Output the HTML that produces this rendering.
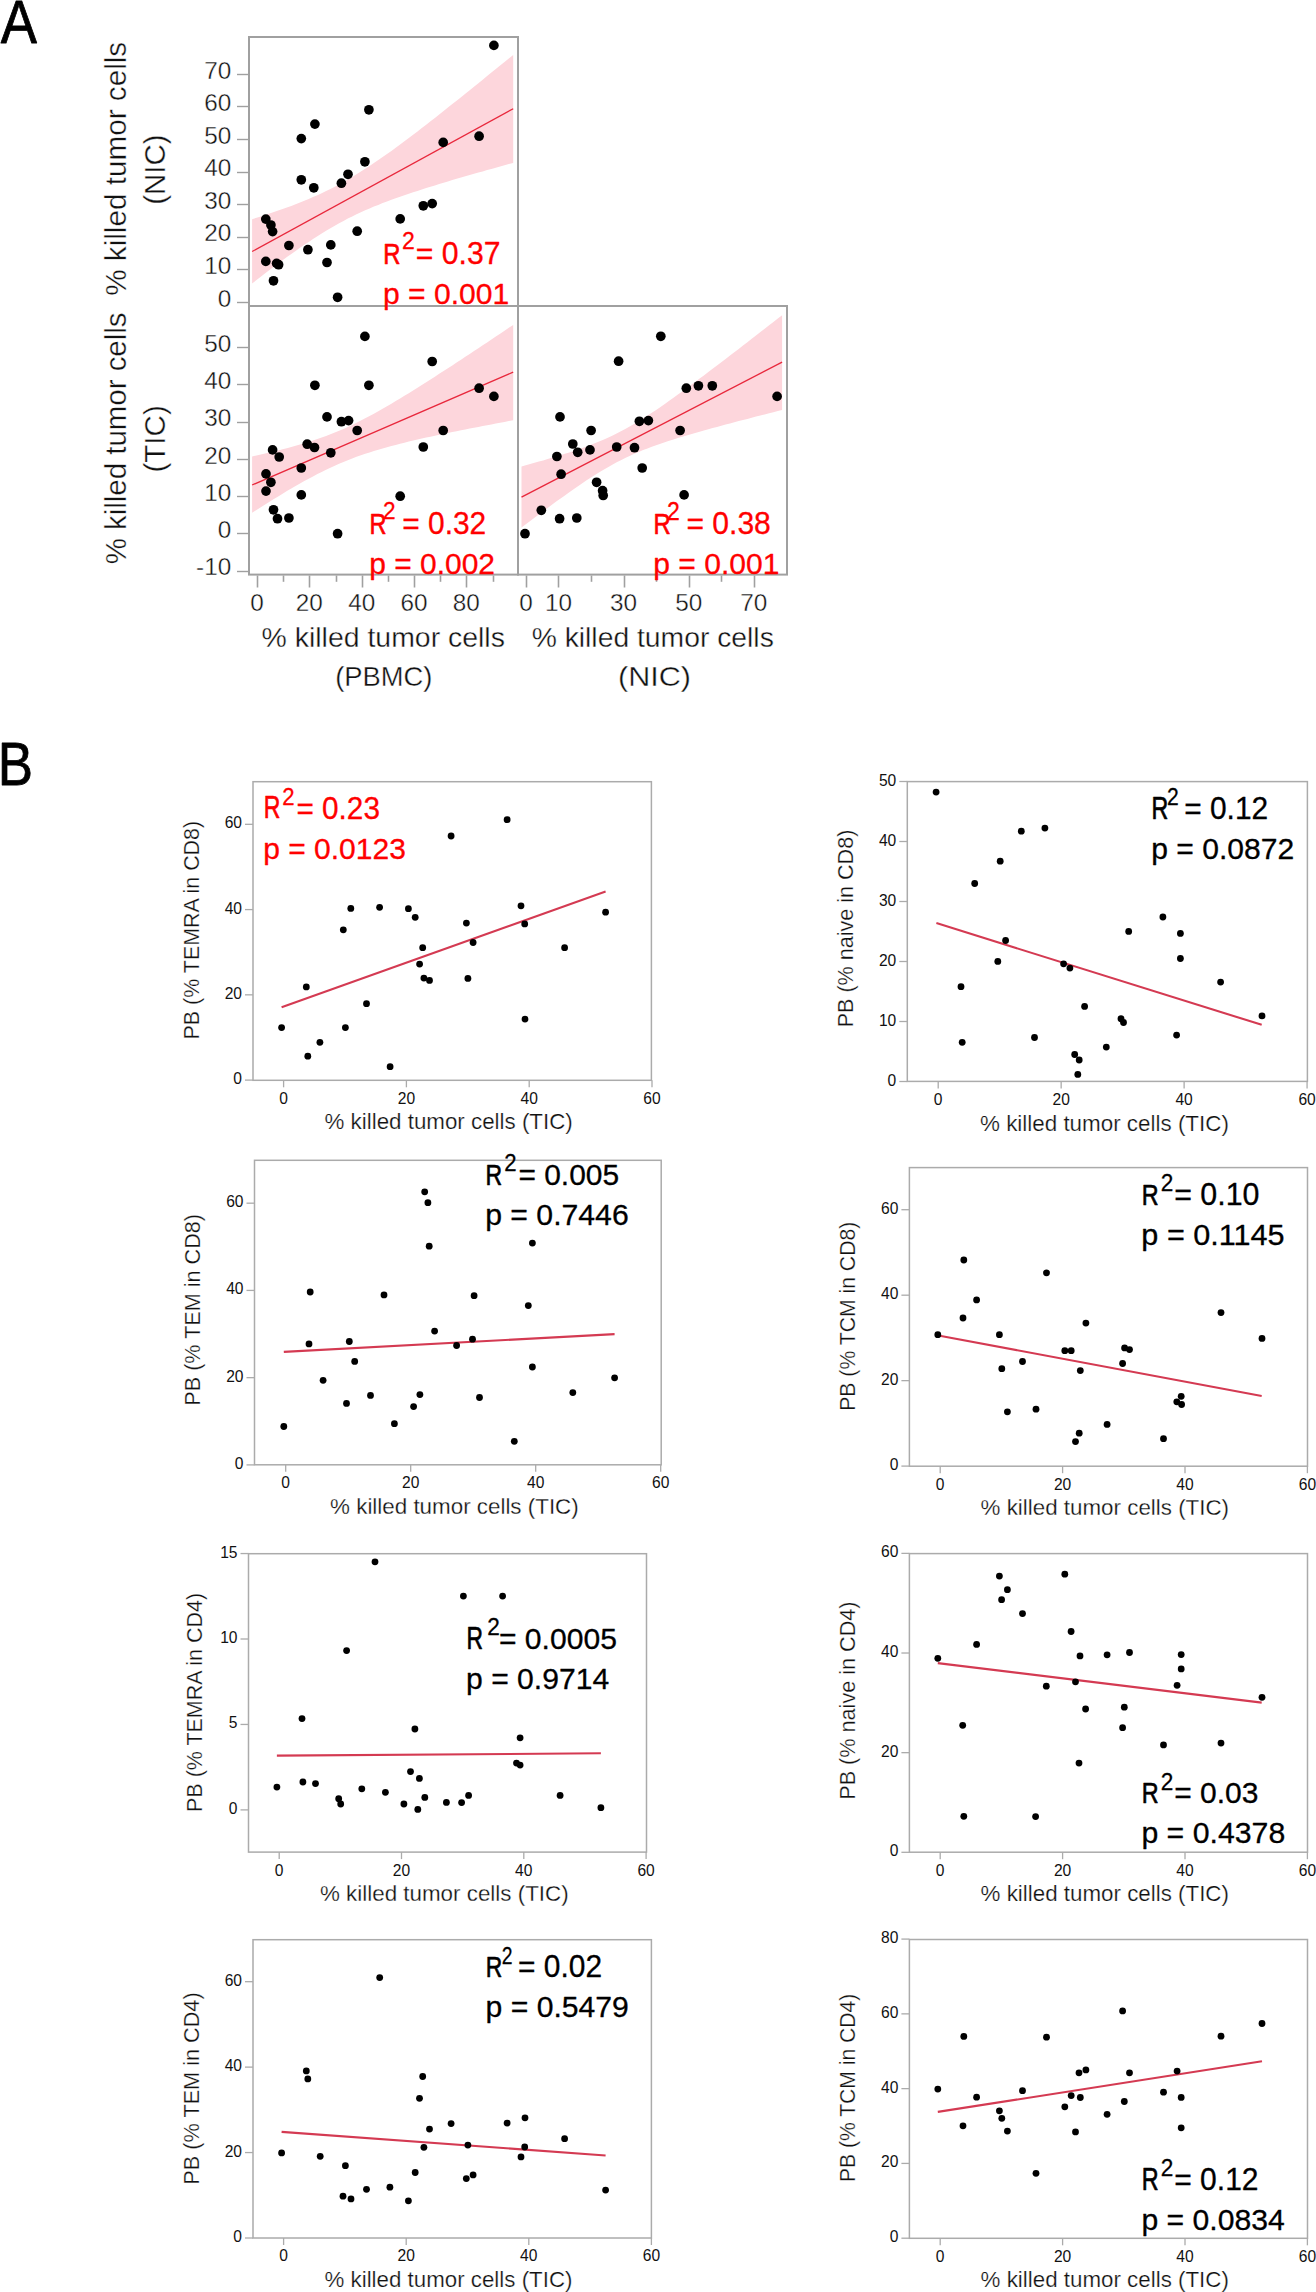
<!DOCTYPE html>
<html><head><meta charset="utf-8"><style>
html,body{margin:0;padding:0;background:#fff;}
body{width:1316px;height:2292px;overflow:hidden;}
svg{display:block;font-family:"Liberation Sans",sans-serif;}
</style></head><body>
<svg width="1316" height="2292" viewBox="0 0 1316 2292">
<rect width="1316" height="2292" fill="#fff"/>
<text transform="translate(0.70,43.40) scale(0.8876,1)" font-size="61.16" fill="#000" stroke="#000" stroke-width="0.8" stroke-linejoin="round">A</text>
<text transform="translate(-2.33,785.10) scale(0.8649,1)" font-size="61.16" fill="#000" stroke="#000" stroke-width="0.8" stroke-linejoin="round">B</text>
<path d="M252.1,219.2 L256.5,217.8 L260.8,216.4 L265.2,215.0 L269.5,213.6 L273.9,212.1 L278.2,210.6 L282.6,209.1 L286.9,207.5 L291.3,205.9 L295.6,204.3 L300.0,202.6 L304.3,200.8 L308.7,199.0 L313.0,197.1 L317.4,195.2 L321.7,193.2 L326.1,191.1 L330.4,189.0 L334.8,186.7 L339.1,184.4 L343.5,182.0 L347.8,179.5 L352.2,177.0 L356.5,174.3 L360.9,171.6 L365.2,168.8 L369.6,166.0 L373.9,163.1 L378.3,160.1 L382.6,157.1 L387.0,154.0 L391.4,150.9 L395.7,147.7 L400.1,144.5 L404.4,141.3 L408.8,138.0 L413.1,134.7 L417.5,131.4 L421.8,128.0 L426.2,124.7 L430.5,121.3 L434.9,117.9 L439.2,114.5 L443.6,111.0 L447.9,107.6 L452.3,104.1 L456.6,100.7 L461.0,97.2 L465.3,93.7 L469.7,90.2 L474.0,86.7 L478.4,83.2 L482.7,79.7 L487.1,76.1 L491.4,72.6 L495.8,69.1 L500.1,65.5 L504.5,62.0 L508.8,58.5 L513.2,54.9 L513.2,162.9 L508.8,164.1 L504.5,165.3 L500.1,166.5 L495.8,167.7 L491.4,168.9 L487.1,170.1 L482.7,171.4 L478.4,172.6 L474.0,173.8 L469.7,175.1 L465.3,176.3 L461.0,177.6 L456.6,178.8 L452.3,180.1 L447.9,181.4 L443.6,182.7 L439.2,184.0 L434.9,185.4 L430.5,186.7 L426.2,188.1 L421.8,189.5 L417.5,190.9 L413.1,192.3 L408.8,193.7 L404.4,195.2 L400.1,196.7 L395.7,198.3 L391.4,199.8 L387.0,201.5 L382.6,203.1 L378.3,204.9 L373.9,206.6 L369.6,208.5 L365.2,210.3 L360.9,212.3 L356.5,214.3 L352.2,216.4 L347.8,218.6 L343.5,220.9 L339.1,223.2 L334.8,225.7 L330.4,228.2 L326.1,230.8 L321.7,233.4 L317.4,236.2 L313.0,239.0 L308.7,241.9 L304.3,244.8 L300.0,247.8 L295.6,250.9 L291.3,254.0 L286.9,257.1 L282.6,260.3 L278.2,263.5 L273.9,266.8 L269.5,270.0 L265.2,273.3 L260.8,276.7 L256.5,280.0 L252.1,283.4Z" fill="#fdd6dc"/>
<path d="M252.1,456.5 L256.5,455.5 L260.8,454.6 L265.2,453.6 L269.5,452.5 L273.9,451.5 L278.2,450.4 L282.6,449.3 L286.9,448.2 L291.3,447.0 L295.6,445.8 L300.0,444.6 L304.3,443.3 L308.7,441.9 L313.0,440.5 L317.4,439.1 L321.7,437.6 L326.1,436.0 L330.4,434.3 L334.8,432.6 L339.1,430.8 L343.5,428.9 L347.8,426.9 L352.2,424.9 L356.5,422.8 L360.9,420.6 L365.2,418.3 L369.6,416.0 L373.9,413.7 L378.3,411.2 L382.6,408.8 L387.0,406.3 L391.4,403.7 L395.7,401.1 L400.1,398.5 L404.4,395.8 L408.8,393.2 L413.1,390.5 L417.5,387.7 L421.8,385.0 L426.2,382.2 L430.5,379.4 L434.9,376.7 L439.2,373.8 L443.6,371.0 L447.9,368.2 L452.3,365.4 L456.6,362.5 L461.0,359.7 L465.3,356.8 L469.7,353.9 L474.0,351.0 L478.4,348.2 L482.7,345.3 L487.1,342.4 L491.4,339.5 L495.8,336.6 L500.1,333.7 L504.5,330.7 L508.8,327.8 L513.2,324.9 L513.2,420.3 L508.8,421.1 L504.5,421.9 L500.1,422.7 L495.8,423.6 L491.4,424.4 L487.1,425.2 L482.7,426.1 L478.4,426.9 L474.0,427.8 L469.7,428.6 L465.3,429.5 L461.0,430.3 L456.6,431.2 L452.3,432.1 L447.9,433.0 L443.6,433.9 L439.2,434.8 L434.9,435.7 L430.5,436.7 L426.2,437.6 L421.8,438.6 L417.5,439.6 L413.1,440.6 L408.8,441.6 L404.4,442.7 L400.1,443.8 L395.7,444.9 L391.4,446.0 L387.0,447.2 L382.6,448.4 L378.3,449.7 L373.9,451.0 L369.6,452.4 L365.2,453.8 L360.9,455.3 L356.5,456.8 L352.2,458.5 L347.8,460.2 L343.5,461.9 L339.1,463.8 L334.8,465.7 L330.4,467.7 L326.1,469.8 L321.7,471.9 L317.4,474.1 L313.0,476.4 L308.7,478.7 L304.3,481.1 L300.0,483.6 L295.6,486.0 L291.3,488.6 L286.9,491.1 L282.6,493.7 L278.2,496.4 L273.9,499.0 L269.5,501.7 L265.2,504.4 L260.8,507.2 L256.5,509.9 L252.1,512.7Z" fill="#fdd6dc"/>
<path d="M521.5,466.4 L525.8,465.2 L530.2,464.0 L534.5,462.8 L538.9,461.6 L543.2,460.4 L547.6,459.1 L551.9,457.8 L556.2,456.5 L560.6,455.2 L564.9,453.8 L569.3,452.4 L573.6,451.0 L578.0,449.5 L582.3,448.0 L586.6,446.5 L591.0,444.8 L595.3,443.1 L599.7,441.3 L604.0,439.5 L608.4,437.5 L612.7,435.5 L617.1,433.3 L621.4,431.1 L625.7,428.7 L630.1,426.3 L634.4,423.8 L638.8,421.1 L643.1,418.4 L647.5,415.6 L651.8,412.8 L656.1,409.9 L660.5,406.9 L664.8,403.9 L669.2,400.8 L673.5,397.8 L677.9,394.6 L682.2,391.5 L686.5,388.3 L690.9,385.1 L695.2,381.9 L699.6,378.6 L703.9,375.4 L708.3,372.1 L712.6,368.8 L717.0,365.5 L721.3,362.2 L725.6,358.9 L730.0,355.6 L734.3,352.2 L738.7,348.9 L743.0,345.5 L747.4,342.2 L751.7,338.8 L756.0,335.5 L760.4,332.1 L764.7,328.7 L769.1,325.3 L773.4,322.0 L777.8,318.6 L782.1,315.2 L782.1,410.0 L777.8,411.1 L773.4,412.2 L769.1,413.3 L764.7,414.4 L760.4,415.5 L756.0,416.6 L751.7,417.7 L747.4,418.9 L743.0,420.0 L738.7,421.1 L734.3,422.3 L730.0,423.4 L725.6,424.6 L721.3,425.7 L717.0,426.9 L712.6,428.1 L708.3,429.3 L703.9,430.5 L699.6,431.7 L695.2,432.9 L690.9,434.2 L686.5,435.5 L682.2,436.8 L677.9,438.1 L673.5,439.4 L669.2,440.8 L664.8,442.3 L660.5,443.7 L656.1,445.2 L651.8,446.8 L647.5,448.4 L643.1,450.1 L638.8,451.9 L634.4,453.8 L630.1,455.7 L625.7,457.7 L621.4,459.9 L617.1,462.1 L612.7,464.4 L608.4,466.9 L604.0,469.4 L599.7,472.0 L595.3,474.7 L591.0,477.5 L586.6,480.3 L582.3,483.3 L578.0,486.2 L573.6,489.2 L569.3,492.3 L564.9,495.4 L560.6,498.5 L556.2,501.6 L551.9,504.8 L547.6,508.0 L543.2,511.2 L538.9,514.5 L534.5,517.7 L530.2,521.0 L525.8,524.3 L521.5,527.6Z" fill="#fdd6dc"/>
<line x1="252.10" y1="251.50" x2="513.20" y2="108.70" stroke="#e8283c" stroke-width="1.3"/>
<line x1="252.10" y1="485.00" x2="513.20" y2="372.10" stroke="#e8283c" stroke-width="1.3"/>
<line x1="521.50" y1="497.10" x2="782.10" y2="362.20" stroke="#e8283c" stroke-width="1.3"/>
<rect x="249.00" y="37.00" width="269.00" height="269.00" fill="none" stroke="#a0a0a0" stroke-width="2"/>
<rect x="249.00" y="306.00" width="269.00" height="268.60" fill="none" stroke="#a0a0a0" stroke-width="2"/>
<rect x="518.00" y="306.00" width="269.00" height="268.60" fill="none" stroke="#a0a0a0" stroke-width="2"/>
<line x1="237.00" y1="302.50" x2="249.00" y2="302.50" stroke="#a0a0a0" stroke-width="1.4"/>
<text x="231.20" y="306.60" font-size="24.3" text-anchor="end" fill="#111" stroke="#fff" stroke-width="0.35">0</text>
<line x1="237.00" y1="269.50" x2="249.00" y2="269.50" stroke="#a0a0a0" stroke-width="1.4"/>
<text x="231.20" y="274.03" font-size="24.3" text-anchor="end" fill="#111" stroke="#fff" stroke-width="0.35">10</text>
<line x1="237.00" y1="237.50" x2="249.00" y2="237.50" stroke="#a0a0a0" stroke-width="1.4"/>
<text x="231.20" y="241.46" font-size="24.3" text-anchor="end" fill="#111" stroke="#fff" stroke-width="0.35">20</text>
<line x1="237.00" y1="204.50" x2="249.00" y2="204.50" stroke="#a0a0a0" stroke-width="1.4"/>
<text x="231.20" y="208.89" font-size="24.3" text-anchor="end" fill="#111" stroke="#fff" stroke-width="0.35">30</text>
<line x1="237.00" y1="172.50" x2="249.00" y2="172.50" stroke="#a0a0a0" stroke-width="1.4"/>
<text x="231.20" y="176.32" font-size="24.3" text-anchor="end" fill="#111" stroke="#fff" stroke-width="0.35">40</text>
<line x1="237.00" y1="139.50" x2="249.00" y2="139.50" stroke="#a0a0a0" stroke-width="1.4"/>
<text x="231.20" y="143.74" font-size="24.3" text-anchor="end" fill="#111" stroke="#fff" stroke-width="0.35">50</text>
<line x1="237.00" y1="106.50" x2="249.00" y2="106.50" stroke="#a0a0a0" stroke-width="1.4"/>
<text x="231.20" y="111.17" font-size="24.3" text-anchor="end" fill="#111" stroke="#fff" stroke-width="0.35">60</text>
<line x1="237.00" y1="74.50" x2="249.00" y2="74.50" stroke="#a0a0a0" stroke-width="1.4"/>
<text x="231.20" y="78.60" font-size="24.3" text-anchor="end" fill="#111" stroke="#fff" stroke-width="0.35">70</text>
<line x1="237.00" y1="571.50" x2="249.00" y2="571.50" stroke="#a0a0a0" stroke-width="1.4"/>
<text x="231.20" y="575.34" font-size="24.3" text-anchor="end" fill="#111" stroke="#fff" stroke-width="0.35">-10</text>
<line x1="237.00" y1="533.50" x2="249.00" y2="533.50" stroke="#a0a0a0" stroke-width="1.4"/>
<text x="231.20" y="538.10" font-size="24.3" text-anchor="end" fill="#111" stroke="#fff" stroke-width="0.35">0</text>
<line x1="237.00" y1="496.50" x2="249.00" y2="496.50" stroke="#a0a0a0" stroke-width="1.4"/>
<text x="231.20" y="500.86" font-size="24.3" text-anchor="end" fill="#111" stroke="#fff" stroke-width="0.35">10</text>
<line x1="237.00" y1="459.50" x2="249.00" y2="459.50" stroke="#a0a0a0" stroke-width="1.4"/>
<text x="231.20" y="463.62" font-size="24.3" text-anchor="end" fill="#111" stroke="#fff" stroke-width="0.35">20</text>
<line x1="237.00" y1="422.50" x2="249.00" y2="422.50" stroke="#a0a0a0" stroke-width="1.4"/>
<text x="231.20" y="426.38" font-size="24.3" text-anchor="end" fill="#111" stroke="#fff" stroke-width="0.35">30</text>
<line x1="237.00" y1="384.50" x2="249.00" y2="384.50" stroke="#a0a0a0" stroke-width="1.4"/>
<text x="231.20" y="389.14" font-size="24.3" text-anchor="end" fill="#111" stroke="#fff" stroke-width="0.35">40</text>
<line x1="237.00" y1="347.50" x2="249.00" y2="347.50" stroke="#a0a0a0" stroke-width="1.4"/>
<text x="231.20" y="351.90" font-size="24.3" text-anchor="end" fill="#111" stroke="#fff" stroke-width="0.35">50</text>
<line x1="257.50" y1="575.50" x2="257.50" y2="587.50" stroke="#a0a0a0" stroke-width="1.6"/>
<text x="257.00" y="611.20" font-size="24.3" text-anchor="middle" fill="#111" stroke="#fff" stroke-width="0.35">0</text>
<line x1="283.50" y1="575.50" x2="283.50" y2="581.80" stroke="#a0a0a0" stroke-width="1.6"/>
<line x1="309.50" y1="575.50" x2="309.50" y2="587.50" stroke="#a0a0a0" stroke-width="1.6"/>
<text x="309.34" y="611.20" font-size="24.3" text-anchor="middle" fill="#111" stroke="#fff" stroke-width="0.35">20</text>
<line x1="336.50" y1="575.50" x2="336.50" y2="581.80" stroke="#a0a0a0" stroke-width="1.6"/>
<line x1="362.50" y1="575.50" x2="362.50" y2="587.50" stroke="#a0a0a0" stroke-width="1.6"/>
<text x="361.68" y="611.20" font-size="24.3" text-anchor="middle" fill="#111" stroke="#fff" stroke-width="0.35">40</text>
<line x1="388.50" y1="575.50" x2="388.50" y2="581.80" stroke="#a0a0a0" stroke-width="1.6"/>
<line x1="414.50" y1="575.50" x2="414.50" y2="587.50" stroke="#a0a0a0" stroke-width="1.6"/>
<text x="414.02" y="611.20" font-size="24.3" text-anchor="middle" fill="#111" stroke="#fff" stroke-width="0.35">60</text>
<line x1="440.50" y1="575.50" x2="440.50" y2="581.80" stroke="#a0a0a0" stroke-width="1.6"/>
<line x1="466.50" y1="575.50" x2="466.50" y2="587.50" stroke="#a0a0a0" stroke-width="1.6"/>
<text x="466.36" y="611.20" font-size="24.3" text-anchor="middle" fill="#111" stroke="#fff" stroke-width="0.35">80</text>
<line x1="493.50" y1="575.50" x2="493.50" y2="581.80" stroke="#a0a0a0" stroke-width="1.6"/>
<line x1="526.50" y1="575.50" x2="526.50" y2="587.50" stroke="#a0a0a0" stroke-width="1.6"/>
<text x="525.90" y="611.20" font-size="24.3" text-anchor="middle" fill="#111" stroke="#fff" stroke-width="0.35">0</text>
<line x1="558.50" y1="575.50" x2="558.50" y2="587.50" stroke="#a0a0a0" stroke-width="1.6"/>
<text x="558.47" y="611.20" font-size="24.3" text-anchor="middle" fill="#111" stroke="#fff" stroke-width="0.35">10</text>
<line x1="591.50" y1="575.50" x2="591.50" y2="581.80" stroke="#a0a0a0" stroke-width="1.6"/>
<line x1="624.50" y1="575.50" x2="624.50" y2="587.50" stroke="#a0a0a0" stroke-width="1.6"/>
<text x="623.61" y="611.20" font-size="24.3" text-anchor="middle" fill="#111" stroke="#fff" stroke-width="0.35">30</text>
<line x1="656.50" y1="575.50" x2="656.50" y2="581.80" stroke="#a0a0a0" stroke-width="1.6"/>
<line x1="689.50" y1="575.50" x2="689.50" y2="587.50" stroke="#a0a0a0" stroke-width="1.6"/>
<text x="688.75" y="611.20" font-size="24.3" text-anchor="middle" fill="#111" stroke="#fff" stroke-width="0.35">50</text>
<line x1="721.50" y1="575.50" x2="721.50" y2="581.80" stroke="#a0a0a0" stroke-width="1.6"/>
<line x1="754.50" y1="575.50" x2="754.50" y2="587.50" stroke="#a0a0a0" stroke-width="1.6"/>
<text x="753.89" y="611.20" font-size="24.3" text-anchor="middle" fill="#111" stroke="#fff" stroke-width="0.35">70</text>
<text transform="translate(126.18,295.81) rotate(-90) scale(1.0079,1)" font-size="29.46" fill="#111" stroke="#fff" stroke-width="0.35" stroke-linejoin="round">% killed tumor cells</text>
<text transform="translate(165.42,204.84) rotate(-90) scale(0.9887,1)" font-size="29.79" fill="#111" stroke="#fff" stroke-width="0.35" stroke-linejoin="round">(NIC)</text>
<text transform="translate(125.98,564.31) rotate(-90) scale(1.0131,1)" font-size="29.05" fill="#111" stroke="#fff" stroke-width="0.35" stroke-linejoin="round">% killed tumor cells</text>
<text transform="translate(165.18,472.55) rotate(-90) scale(1.0180,1)" font-size="29.04" fill="#111" stroke="#fff" stroke-width="0.35" stroke-linejoin="round">(TIC)</text>
<text transform="translate(261.53,647.09) scale(1.0122,1)" font-size="28.10" fill="#111" stroke="#fff" stroke-width="0.35" stroke-linejoin="round">% killed tumor cells</text>
<text transform="translate(335.18,685.92) scale(0.9817,1)" font-size="27.86" fill="#111" stroke="#fff" stroke-width="0.35" stroke-linejoin="round">(PBMC)</text>
<text transform="translate(531.63,647.09) scale(1.0076,1)" font-size="28.10" fill="#111" stroke="#fff" stroke-width="0.35" stroke-linejoin="round">% killed tumor cells</text>
<text transform="translate(617.99,685.92) scale(1.0965,1)" font-size="27.86" fill="#111" stroke="#fff" stroke-width="0.35" stroke-linejoin="round">(NIC)</text>
<circle cx="493.9" cy="45.4" r="4.85"/>
<circle cx="368.9" cy="109.8" r="4.85"/>
<circle cx="314.9" cy="124.1" r="4.85"/>
<circle cx="301.3" cy="138.6" r="4.85"/>
<circle cx="479.1" cy="136.2" r="4.85"/>
<circle cx="443.2" cy="142.4" r="4.85"/>
<circle cx="364.9" cy="161.8" r="4.85"/>
<circle cx="348.0" cy="174.3" r="4.85"/>
<circle cx="341.4" cy="183.2" r="4.85"/>
<circle cx="301.3" cy="179.8" r="4.85"/>
<circle cx="313.8" cy="187.8" r="4.85"/>
<circle cx="432.2" cy="203.6" r="4.85"/>
<circle cx="423.3" cy="205.8" r="4.85"/>
<circle cx="400.2" cy="218.9" r="4.85"/>
<circle cx="265.8" cy="219.1" r="4.85"/>
<circle cx="270.9" cy="225.0" r="4.85"/>
<circle cx="272.6" cy="231.6" r="4.85"/>
<circle cx="357.2" cy="231.2" r="4.85"/>
<circle cx="288.9" cy="245.5" r="4.85"/>
<circle cx="307.9" cy="249.7" r="4.85"/>
<circle cx="330.8" cy="244.9" r="4.85"/>
<circle cx="265.8" cy="261.4" r="4.85"/>
<circle cx="278.6" cy="264.7" r="4.85"/>
<circle cx="276.6" cy="263.4" r="4.85"/>
<circle cx="327.0" cy="262.5" r="4.85"/>
<circle cx="273.5" cy="280.8" r="4.85"/>
<circle cx="337.6" cy="297.3" r="4.85"/>
<circle cx="364.9" cy="336.4" r="4.85"/>
<circle cx="432.2" cy="361.5" r="4.85"/>
<circle cx="314.9" cy="385.3" r="4.85"/>
<circle cx="368.9" cy="385.3" r="4.85"/>
<circle cx="479.1" cy="388.2" r="4.85"/>
<circle cx="493.9" cy="396.4" r="4.85"/>
<circle cx="327.0" cy="416.9" r="4.85"/>
<circle cx="341.4" cy="421.7" r="4.85"/>
<circle cx="348.6" cy="420.6" r="4.85"/>
<circle cx="357.2" cy="430.5" r="4.85"/>
<circle cx="443.2" cy="430.5" r="4.85"/>
<circle cx="272.6" cy="449.9" r="4.85"/>
<circle cx="279.2" cy="457.0" r="4.85"/>
<circle cx="307.2" cy="444.2" r="4.85"/>
<circle cx="314.5" cy="447.5" r="4.85"/>
<circle cx="330.8" cy="452.8" r="4.85"/>
<circle cx="423.3" cy="447.0" r="4.85"/>
<circle cx="301.3" cy="468.0" r="4.85"/>
<circle cx="266.0" cy="473.9" r="4.85"/>
<circle cx="270.9" cy="482.3" r="4.85"/>
<circle cx="266.0" cy="491.1" r="4.85"/>
<circle cx="301.3" cy="494.9" r="4.85"/>
<circle cx="400.2" cy="496.2" r="4.85"/>
<circle cx="273.5" cy="509.8" r="4.85"/>
<circle cx="277.5" cy="518.7" r="4.85"/>
<circle cx="288.9" cy="518.0" r="4.85"/>
<circle cx="337.6" cy="533.7" r="4.85"/>
<circle cx="660.8" cy="336.3" r="4.85"/>
<circle cx="618.6" cy="361.2" r="4.85"/>
<circle cx="686.3" cy="388.2" r="4.85"/>
<circle cx="698.4" cy="385.8" r="4.85"/>
<circle cx="712.3" cy="385.8" r="4.85"/>
<circle cx="777.1" cy="396.4" r="4.85"/>
<circle cx="560.0" cy="416.9" r="4.85"/>
<circle cx="639.4" cy="421.3" r="4.85"/>
<circle cx="648.4" cy="420.6" r="4.85"/>
<circle cx="591.1" cy="430.5" r="4.85"/>
<circle cx="680.1" cy="430.5" r="4.85"/>
<circle cx="572.8" cy="444.0" r="4.85"/>
<circle cx="577.7" cy="452.3" r="4.85"/>
<circle cx="590.0" cy="449.9" r="4.85"/>
<circle cx="616.7" cy="447.0" r="4.85"/>
<circle cx="634.5" cy="447.7" r="4.85"/>
<circle cx="556.9" cy="456.5" r="4.85"/>
<circle cx="561.1" cy="474.2" r="4.85"/>
<circle cx="642.2" cy="468.0" r="4.85"/>
<circle cx="596.6" cy="482.3" r="4.85"/>
<circle cx="602.6" cy="490.7" r="4.85"/>
<circle cx="603.2" cy="495.5" r="4.85"/>
<circle cx="684.1" cy="494.9" r="4.85"/>
<circle cx="541.3" cy="510.3" r="4.85"/>
<circle cx="559.6" cy="518.7" r="4.85"/>
<circle cx="576.8" cy="518.0" r="4.85"/>
<circle cx="525.0" cy="533.7" r="4.85"/>
<text transform="translate(383.24,263.75) scale(0.7917,1)" font-size="30.14" fill="#ff0000" stroke="#ff0000" stroke-width="0.7" stroke-linejoin="round">R</text>
<text transform="translate(401.90,249.15) scale(0.9433,1)" font-size="24.43" fill="#ff0000" stroke="#ff0000" stroke-width="0.3" stroke-linejoin="round">2</text>
<text transform="translate(415.79,263.94) scale(0.9703,1)" font-size="31.13" fill="#ff0000" stroke="#ff0000" stroke-width="0.3" stroke-linejoin="round">= 0.37</text>
<text transform="translate(382.99,304.15) scale(1.0029,1)" font-size="30.00" fill="#ff0000" stroke="#ff0000" stroke-width="0.3" stroke-linejoin="round">p = 0.001</text>
<text transform="translate(369.47,533.75) scale(0.7805,1)" font-size="30.14" fill="#ff0000" stroke="#ff0000" stroke-width="0.7" stroke-linejoin="round">R</text>
<text transform="translate(382.92,519.15) scale(0.9255,1)" font-size="24.43" fill="#ff0000" stroke="#ff0000" stroke-width="0.3" stroke-linejoin="round">2</text>
<text transform="translate(402.20,533.94) scale(0.9620,1)" font-size="31.13" fill="#ff0000" stroke="#ff0000" stroke-width="0.3" stroke-linejoin="round">= 0.32</text>
<text transform="translate(369.20,573.77) scale(1.0182,1)" font-size="29.45" fill="#ff0000" stroke="#ff0000" stroke-width="0.3" stroke-linejoin="round">p = 0.002</text>
<text transform="translate(653.54,534.05) scale(0.7917,1)" font-size="30.14" fill="#ff0000" stroke="#ff0000" stroke-width="0.7" stroke-linejoin="round">R</text>
<text transform="translate(666.90,519.55) scale(0.9217,1)" font-size="25.00" fill="#ff0000" stroke="#ff0000" stroke-width="0.3" stroke-linejoin="round">2</text>
<text transform="translate(686.40,534.14) scale(0.9575,1)" font-size="31.41" fill="#ff0000" stroke="#ff0000" stroke-width="0.3" stroke-linejoin="round">= 0.38</text>
<text transform="translate(653.30,574.22) scale(1.0132,1)" font-size="29.67" fill="#ff0000" stroke="#ff0000" stroke-width="0.3" stroke-linejoin="round">p = 0.001</text>
<rect x="253.00" y="781.70" width="398.40" height="298.60" fill="none" stroke="#ababab" stroke-width="1.5"/>
<line x1="245.00" y1="1080.10" x2="253.00" y2="1080.10" stroke="#ababab" stroke-width="1.3"/>
<text x="242.00" y="1084.10" font-size="15.6" text-anchor="end" fill="#111">0</text>
<line x1="245.00" y1="994.84" x2="253.00" y2="994.84" stroke="#ababab" stroke-width="1.3"/>
<text x="242.00" y="998.84" font-size="15.6" text-anchor="end" fill="#111">20</text>
<line x1="245.00" y1="909.58" x2="253.00" y2="909.58" stroke="#ababab" stroke-width="1.3"/>
<text x="242.00" y="913.58" font-size="15.6" text-anchor="end" fill="#111">40</text>
<line x1="245.00" y1="824.32" x2="253.00" y2="824.32" stroke="#ababab" stroke-width="1.3"/>
<text x="242.00" y="828.32" font-size="15.6" text-anchor="end" fill="#111">60</text>
<line x1="283.60" y1="1080.30" x2="283.60" y2="1087.30" stroke="#ababab" stroke-width="1.3"/>
<text x="283.60" y="1103.70" font-size="15.6" text-anchor="middle" fill="#111">0</text>
<line x1="406.40" y1="1080.30" x2="406.40" y2="1087.30" stroke="#ababab" stroke-width="1.3"/>
<text x="406.40" y="1103.70" font-size="15.6" text-anchor="middle" fill="#111">20</text>
<line x1="529.20" y1="1080.30" x2="529.20" y2="1087.30" stroke="#ababab" stroke-width="1.3"/>
<text x="529.20" y="1103.70" font-size="15.6" text-anchor="middle" fill="#111">40</text>
<line x1="652.00" y1="1080.30" x2="652.00" y2="1087.30" stroke="#ababab" stroke-width="1.3"/>
<text x="652.00" y="1103.70" font-size="15.6" text-anchor="middle" fill="#111">60</text>
<text transform="translate(198.85,1039.44) rotate(-90) scale(0.9848,1)" font-size="21.76" fill="#111" stroke="#fff" stroke-width="0.25" stroke-linejoin="round">PB (% TEMRA in CD8)</text>
<text transform="translate(324.49,1129.41) scale(1.0171,1)" font-size="21.98" fill="#111" stroke="#fff" stroke-width="0.25" stroke-linejoin="round">% killed tumor cells (TIC)</text>
<line x1="281.60" y1="1007.20" x2="605.60" y2="891.50" stroke="#d43a52" stroke-width="2.1"/>
<circle cx="451.1" cy="836.0" r="3.4"/>
<circle cx="350.8" cy="908.4" r="3.4"/>
<circle cx="379.6" cy="907.3" r="3.4"/>
<circle cx="408.4" cy="908.7" r="3.4"/>
<circle cx="415.2" cy="917.3" r="3.4"/>
<circle cx="343.3" cy="929.8" r="3.4"/>
<circle cx="422.7" cy="947.7" r="3.4"/>
<circle cx="419.6" cy="964.1" r="3.4"/>
<circle cx="423.9" cy="978.1" r="3.4"/>
<circle cx="429.5" cy="980.4" r="3.4"/>
<circle cx="306.3" cy="986.9" r="3.4"/>
<circle cx="366.5" cy="1003.7" r="3.4"/>
<circle cx="281.6" cy="1027.6" r="3.4"/>
<circle cx="345.4" cy="1027.6" r="3.4"/>
<circle cx="319.9" cy="1042.3" r="3.4"/>
<circle cx="307.8" cy="1056.2" r="3.4"/>
<circle cx="390.1" cy="1066.7" r="3.4"/>
<circle cx="507.1" cy="819.7" r="3.4"/>
<circle cx="521.0" cy="905.8" r="3.4"/>
<circle cx="605.6" cy="912.2" r="3.4"/>
<circle cx="466.4" cy="923.1" r="3.4"/>
<circle cx="524.7" cy="923.9" r="3.4"/>
<circle cx="473.1" cy="942.5" r="3.4"/>
<circle cx="564.6" cy="947.7" r="3.4"/>
<circle cx="467.9" cy="978.4" r="3.4"/>
<circle cx="525.0" cy="1019.1" r="3.4"/>
<text transform="translate(263.81,818.35) scale(0.7565,1)" font-size="30.43" fill="#ff0000" stroke="#ff0000" stroke-width="0.7" stroke-linejoin="round">R</text>
<text transform="translate(282.24,804.85) scale(0.9464,1)" font-size="23.43" fill="#ff0000" stroke="#ff0000" stroke-width="0.3" stroke-linejoin="round">2</text>
<text transform="translate(296.41,818.54) scale(0.9643,1)" font-size="30.85" fill="#ff0000" stroke="#ff0000" stroke-width="0.3" stroke-linejoin="round">= 0.23</text>
<text transform="translate(263.20,858.80) scale(1.0081,1)" font-size="29.78" fill="#ff0000" stroke="#ff0000" stroke-width="0.3" stroke-linejoin="round">p = 0.0123</text>
<rect x="907.30" y="781.60" width="400.10" height="299.80" fill="none" stroke="#ababab" stroke-width="1.5"/>
<line x1="899.30" y1="1081.50" x2="907.30" y2="1081.50" stroke="#ababab" stroke-width="1.3"/>
<text x="896.30" y="1085.50" font-size="15.6" text-anchor="end" fill="#111">0</text>
<line x1="899.30" y1="1021.50" x2="907.30" y2="1021.50" stroke="#ababab" stroke-width="1.3"/>
<text x="896.30" y="1025.50" font-size="15.6" text-anchor="end" fill="#111">10</text>
<line x1="899.30" y1="961.50" x2="907.30" y2="961.50" stroke="#ababab" stroke-width="1.3"/>
<text x="896.30" y="965.50" font-size="15.6" text-anchor="end" fill="#111">20</text>
<line x1="899.30" y1="901.50" x2="907.30" y2="901.50" stroke="#ababab" stroke-width="1.3"/>
<text x="896.30" y="905.50" font-size="15.6" text-anchor="end" fill="#111">30</text>
<line x1="899.30" y1="841.50" x2="907.30" y2="841.50" stroke="#ababab" stroke-width="1.3"/>
<text x="896.30" y="845.50" font-size="15.6" text-anchor="end" fill="#111">40</text>
<line x1="899.30" y1="781.50" x2="907.30" y2="781.50" stroke="#ababab" stroke-width="1.3"/>
<text x="896.30" y="785.50" font-size="15.6" text-anchor="end" fill="#111">50</text>
<line x1="938.20" y1="1081.40" x2="938.20" y2="1088.40" stroke="#ababab" stroke-width="1.3"/>
<text x="938.20" y="1104.80" font-size="15.6" text-anchor="middle" fill="#111">0</text>
<line x1="1061.16" y1="1081.40" x2="1061.16" y2="1088.40" stroke="#ababab" stroke-width="1.3"/>
<text x="1061.16" y="1104.80" font-size="15.6" text-anchor="middle" fill="#111">20</text>
<line x1="1184.12" y1="1081.40" x2="1184.12" y2="1088.40" stroke="#ababab" stroke-width="1.3"/>
<text x="1184.12" y="1104.80" font-size="15.6" text-anchor="middle" fill="#111">40</text>
<line x1="1307.08" y1="1081.40" x2="1307.08" y2="1088.40" stroke="#ababab" stroke-width="1.3"/>
<text x="1307.08" y="1104.80" font-size="15.6" text-anchor="middle" fill="#111">60</text>
<text transform="translate(852.85,1027.35) rotate(-90) scale(0.9909,1)" font-size="21.76" fill="#111" stroke="#fff" stroke-width="0.25" stroke-linejoin="round">PB (% naive in CD8)</text>
<text transform="translate(979.99,1130.71) scale(1.0192,1)" font-size="21.98" fill="#111" stroke="#fff" stroke-width="0.25" stroke-linejoin="round">% killed tumor cells (TIC)</text>
<line x1="936.40" y1="923.10" x2="1261.70" y2="1024.80" stroke="#d43a52" stroke-width="2.1"/>
<circle cx="936.1" cy="792.1" r="3.4"/>
<circle cx="1021.3" cy="831.2" r="3.4"/>
<circle cx="1044.9" cy="828.1" r="3.4"/>
<circle cx="1000.2" cy="861.2" r="3.4"/>
<circle cx="974.7" cy="883.5" r="3.4"/>
<circle cx="1005.6" cy="940.5" r="3.4"/>
<circle cx="997.8" cy="961.4" r="3.4"/>
<circle cx="1063.6" cy="963.8" r="3.4"/>
<circle cx="1069.9" cy="968.1" r="3.4"/>
<circle cx="961.0" cy="986.7" r="3.4"/>
<circle cx="1084.6" cy="1006.4" r="3.4"/>
<circle cx="1034.5" cy="1037.5" r="3.4"/>
<circle cx="962.2" cy="1042.3" r="3.4"/>
<circle cx="1106.3" cy="1047.1" r="3.4"/>
<circle cx="1074.7" cy="1054.5" r="3.4"/>
<circle cx="1079.2" cy="1060.0" r="3.4"/>
<circle cx="1077.8" cy="1074.4" r="3.4"/>
<circle cx="1162.9" cy="917.0" r="3.4"/>
<circle cx="1128.7" cy="931.4" r="3.4"/>
<circle cx="1180.4" cy="933.4" r="3.4"/>
<circle cx="1180.4" cy="958.5" r="3.4"/>
<circle cx="1220.6" cy="982.1" r="3.4"/>
<circle cx="1262.0" cy="1015.9" r="3.4"/>
<circle cx="1121.0" cy="1018.7" r="3.4"/>
<circle cx="1123.5" cy="1022.5" r="3.4"/>
<circle cx="1176.6" cy="1035.1" r="3.4"/>
<text transform="translate(1151.49,818.65) scale(0.7621,1)" font-size="30.43" fill="#000" stroke="#000" stroke-width="0.7" stroke-linejoin="round">R</text>
<text transform="translate(1166.90,804.85) scale(0.9001,1)" font-size="23.43" fill="#000" stroke="#000" stroke-width="0.3" stroke-linejoin="round">2</text>
<text transform="translate(1184.20,818.84) scale(0.9565,1)" font-size="31.27" fill="#000" stroke="#000" stroke-width="0.3" stroke-linejoin="round">= 0.12</text>
<text transform="translate(1151.20,859.07) scale(1.0062,1)" font-size="29.89" fill="#000" stroke="#000" stroke-width="0.3" stroke-linejoin="round">p = 0.0872</text>
<rect x="254.50" y="1160.30" width="406.70" height="304.50" fill="none" stroke="#ababab" stroke-width="1.5"/>
<line x1="246.50" y1="1464.90" x2="254.50" y2="1464.90" stroke="#ababab" stroke-width="1.3"/>
<text x="243.50" y="1468.90" font-size="15.6" text-anchor="end" fill="#111">0</text>
<line x1="246.50" y1="1377.66" x2="254.50" y2="1377.66" stroke="#ababab" stroke-width="1.3"/>
<text x="243.50" y="1381.66" font-size="15.6" text-anchor="end" fill="#111">20</text>
<line x1="246.50" y1="1290.42" x2="254.50" y2="1290.42" stroke="#ababab" stroke-width="1.3"/>
<text x="243.50" y="1294.42" font-size="15.6" text-anchor="end" fill="#111">40</text>
<line x1="246.50" y1="1203.18" x2="254.50" y2="1203.18" stroke="#ababab" stroke-width="1.3"/>
<text x="243.50" y="1207.18" font-size="15.6" text-anchor="end" fill="#111">60</text>
<line x1="285.70" y1="1464.80" x2="285.70" y2="1471.80" stroke="#ababab" stroke-width="1.3"/>
<text x="285.70" y="1488.20" font-size="15.6" text-anchor="middle" fill="#111">0</text>
<line x1="410.70" y1="1464.80" x2="410.70" y2="1471.80" stroke="#ababab" stroke-width="1.3"/>
<text x="410.70" y="1488.20" font-size="15.6" text-anchor="middle" fill="#111">20</text>
<line x1="535.70" y1="1464.80" x2="535.70" y2="1471.80" stroke="#ababab" stroke-width="1.3"/>
<text x="535.70" y="1488.20" font-size="15.6" text-anchor="middle" fill="#111">40</text>
<line x1="660.70" y1="1464.80" x2="660.70" y2="1471.80" stroke="#ababab" stroke-width="1.3"/>
<text x="660.70" y="1488.20" font-size="15.6" text-anchor="middle" fill="#111">60</text>
<text transform="translate(199.51,1405.65) rotate(-90) scale(0.9832,1)" font-size="21.98" fill="#111" stroke="#fff" stroke-width="0.25" stroke-linejoin="round">PB (% TEM in CD8)</text>
<text transform="translate(330.09,1513.91) scale(1.0184,1)" font-size="21.98" fill="#111" stroke="#fff" stroke-width="0.25" stroke-linejoin="round">% killed tumor cells (TIC)</text>
<line x1="283.80" y1="1351.90" x2="614.60" y2="1334.10" stroke="#d43a52" stroke-width="2.1"/>
<circle cx="424.7" cy="1191.8" r="3.4"/>
<circle cx="427.9" cy="1202.7" r="3.4"/>
<circle cx="429.2" cy="1246.2" r="3.4"/>
<circle cx="310.2" cy="1292.0" r="3.4"/>
<circle cx="384.0" cy="1294.9" r="3.4"/>
<circle cx="434.6" cy="1331.1" r="3.4"/>
<circle cx="309.0" cy="1343.9" r="3.4"/>
<circle cx="349.3" cy="1341.5" r="3.4"/>
<circle cx="456.6" cy="1345.5" r="3.4"/>
<circle cx="354.7" cy="1361.4" r="3.4"/>
<circle cx="323.1" cy="1380.3" r="3.4"/>
<circle cx="370.5" cy="1395.4" r="3.4"/>
<circle cx="419.9" cy="1394.6" r="3.4"/>
<circle cx="346.5" cy="1403.4" r="3.4"/>
<circle cx="413.6" cy="1406.6" r="3.4"/>
<circle cx="394.4" cy="1423.7" r="3.4"/>
<circle cx="283.8" cy="1426.5" r="3.4"/>
<circle cx="532.4" cy="1243.1" r="3.4"/>
<circle cx="474.1" cy="1295.7" r="3.4"/>
<circle cx="528.3" cy="1305.6" r="3.4"/>
<circle cx="472.5" cy="1339.2" r="3.4"/>
<circle cx="532.4" cy="1367.0" r="3.4"/>
<circle cx="614.6" cy="1377.8" r="3.4"/>
<circle cx="572.8" cy="1392.6" r="3.4"/>
<circle cx="479.5" cy="1397.5" r="3.4"/>
<circle cx="514.3" cy="1441.3" r="3.4"/>
<text transform="translate(485.51,1184.95) scale(0.7638,1)" font-size="30.14" fill="#000" stroke="#000" stroke-width="0.7" stroke-linejoin="round">R</text>
<text transform="translate(504.24,1171.25) scale(0.9464,1)" font-size="23.43" fill="#000" stroke="#000" stroke-width="0.3" stroke-linejoin="round">2</text>
<text transform="translate(518.40,1185.25) scale(0.9841,1)" font-size="30.42" fill="#000" stroke="#000" stroke-width="0.3" stroke-linejoin="round">= 0.005</text>
<text transform="translate(485.19,1225.47) scale(1.0102,1)" font-size="29.89" fill="#000" stroke="#000" stroke-width="0.3" stroke-linejoin="round">p = 0.7446</text>
<rect x="909.40" y="1167.60" width="398.10" height="298.60" fill="none" stroke="#ababab" stroke-width="1.5"/>
<line x1="901.40" y1="1466.10" x2="909.40" y2="1466.10" stroke="#ababab" stroke-width="1.3"/>
<text x="898.40" y="1470.10" font-size="15.6" text-anchor="end" fill="#111">0</text>
<line x1="901.40" y1="1380.64" x2="909.40" y2="1380.64" stroke="#ababab" stroke-width="1.3"/>
<text x="898.40" y="1384.64" font-size="15.6" text-anchor="end" fill="#111">20</text>
<line x1="901.40" y1="1295.18" x2="909.40" y2="1295.18" stroke="#ababab" stroke-width="1.3"/>
<text x="898.40" y="1299.18" font-size="15.6" text-anchor="end" fill="#111">40</text>
<line x1="901.40" y1="1209.72" x2="909.40" y2="1209.72" stroke="#ababab" stroke-width="1.3"/>
<text x="898.40" y="1213.72" font-size="15.6" text-anchor="end" fill="#111">60</text>
<line x1="940.20" y1="1466.20" x2="940.20" y2="1473.20" stroke="#ababab" stroke-width="1.3"/>
<text x="940.20" y="1489.60" font-size="15.6" text-anchor="middle" fill="#111">0</text>
<line x1="1062.60" y1="1466.20" x2="1062.60" y2="1473.20" stroke="#ababab" stroke-width="1.3"/>
<text x="1062.60" y="1489.60" font-size="15.6" text-anchor="middle" fill="#111">20</text>
<line x1="1185.00" y1="1466.20" x2="1185.00" y2="1473.20" stroke="#ababab" stroke-width="1.3"/>
<text x="1185.00" y="1489.60" font-size="15.6" text-anchor="middle" fill="#111">40</text>
<line x1="1307.40" y1="1466.20" x2="1307.40" y2="1473.20" stroke="#ababab" stroke-width="1.3"/>
<text x="1307.40" y="1489.60" font-size="15.6" text-anchor="middle" fill="#111">60</text>
<text transform="translate(855.35,1410.82) rotate(-90) scale(0.9741,1)" font-size="21.76" fill="#111" stroke="#fff" stroke-width="0.25" stroke-linejoin="round">PB (% TCM in CD8)</text>
<text transform="translate(980.59,1515.29) scale(1.0126,1)" font-size="22.09" fill="#111" stroke="#fff" stroke-width="0.25" stroke-linejoin="round">% killed tumor cells (TIC)</text>
<line x1="938.30" y1="1335.50" x2="1261.70" y2="1396.00" stroke="#d43a52" stroke-width="2.1"/>
<circle cx="963.8" cy="1260.0" r="3.4"/>
<circle cx="1046.5" cy="1272.8" r="3.4"/>
<circle cx="976.6" cy="1299.9" r="3.4"/>
<circle cx="963.0" cy="1318.0" r="3.4"/>
<circle cx="1085.9" cy="1323.1" r="3.4"/>
<circle cx="937.8" cy="1334.7" r="3.4"/>
<circle cx="999.4" cy="1334.7" r="3.4"/>
<circle cx="1064.8" cy="1350.7" r="3.4"/>
<circle cx="1071.2" cy="1350.7" r="3.4"/>
<circle cx="1022.5" cy="1361.5" r="3.4"/>
<circle cx="1001.8" cy="1368.7" r="3.4"/>
<circle cx="1080.3" cy="1370.6" r="3.4"/>
<circle cx="1036.0" cy="1409.2" r="3.4"/>
<circle cx="1007.4" cy="1411.8" r="3.4"/>
<circle cx="1107.1" cy="1424.4" r="3.4"/>
<circle cx="1079.2" cy="1433.2" r="3.4"/>
<circle cx="1075.5" cy="1441.6" r="3.4"/>
<circle cx="1221.0" cy="1312.6" r="3.4"/>
<circle cx="1262.0" cy="1338.4" r="3.4"/>
<circle cx="1124.6" cy="1347.9" r="3.4"/>
<circle cx="1129.5" cy="1349.6" r="3.4"/>
<circle cx="1122.6" cy="1363.5" r="3.4"/>
<circle cx="1181.2" cy="1396.3" r="3.4"/>
<circle cx="1176.8" cy="1401.8" r="3.4"/>
<circle cx="1181.6" cy="1404.5" r="3.4"/>
<circle cx="1163.5" cy="1438.7" r="3.4"/>
<text transform="translate(1141.68,1204.65) scale(0.7713,1)" font-size="30.29" fill="#000" stroke="#000" stroke-width="0.7" stroke-linejoin="round">R</text>
<text transform="translate(1160.72,1191.15) scale(0.9477,1)" font-size="23.86" fill="#000" stroke="#000" stroke-width="0.3" stroke-linejoin="round">2</text>
<text transform="translate(1174.18,1204.94) scale(0.9942,1)" font-size="30.56" fill="#000" stroke="#000" stroke-width="0.3" stroke-linejoin="round">= 0.10</text>
<text transform="translate(1141.36,1245.10) scale(1.0283,1)" font-size="29.78" fill="#000" stroke="#000" stroke-width="0.3" stroke-linejoin="round">p = 0.1145</text>
<rect x="248.50" y="1553.70" width="398.00" height="298.40" fill="none" stroke="#ababab" stroke-width="1.5"/>
<line x1="240.50" y1="1809.90" x2="248.50" y2="1809.90" stroke="#ababab" stroke-width="1.3"/>
<text x="237.50" y="1813.90" font-size="15.6" text-anchor="end" fill="#111">0</text>
<line x1="240.50" y1="1724.45" x2="248.50" y2="1724.45" stroke="#ababab" stroke-width="1.3"/>
<text x="237.50" y="1728.45" font-size="15.6" text-anchor="end" fill="#111">5</text>
<line x1="240.50" y1="1639.00" x2="248.50" y2="1639.00" stroke="#ababab" stroke-width="1.3"/>
<text x="237.50" y="1643.00" font-size="15.6" text-anchor="end" fill="#111">10</text>
<line x1="240.50" y1="1553.55" x2="248.50" y2="1553.55" stroke="#ababab" stroke-width="1.3"/>
<text x="237.50" y="1557.55" font-size="15.6" text-anchor="end" fill="#111">15</text>
<line x1="279.20" y1="1852.10" x2="279.20" y2="1859.10" stroke="#ababab" stroke-width="1.3"/>
<text x="279.20" y="1875.50" font-size="15.6" text-anchor="middle" fill="#111">0</text>
<line x1="401.50" y1="1852.10" x2="401.50" y2="1859.10" stroke="#ababab" stroke-width="1.3"/>
<text x="401.50" y="1875.50" font-size="15.6" text-anchor="middle" fill="#111">20</text>
<line x1="523.80" y1="1852.10" x2="523.80" y2="1859.10" stroke="#ababab" stroke-width="1.3"/>
<text x="523.80" y="1875.50" font-size="15.6" text-anchor="middle" fill="#111">40</text>
<line x1="646.10" y1="1852.10" x2="646.10" y2="1859.10" stroke="#ababab" stroke-width="1.3"/>
<text x="646.10" y="1875.50" font-size="15.6" text-anchor="middle" fill="#111">60</text>
<text transform="translate(201.54,1811.94) rotate(-90) scale(1.0060,1)" font-size="21.34" fill="#111" stroke="#fff" stroke-width="0.25" stroke-linejoin="round">PB (% TEMRA in CD4)</text>
<text transform="translate(319.99,1901.21) scale(1.0184,1)" font-size="21.98" fill="#111" stroke="#fff" stroke-width="0.25" stroke-linejoin="round">% killed tumor cells (TIC)</text>
<line x1="276.90" y1="1755.60" x2="600.90" y2="1753.30" stroke="#d43a52" stroke-width="2.1"/>
<circle cx="375.0" cy="1561.8" r="3.4"/>
<circle cx="346.6" cy="1650.6" r="3.4"/>
<circle cx="302.0" cy="1718.6" r="3.4"/>
<circle cx="414.9" cy="1729.0" r="3.4"/>
<circle cx="410.5" cy="1771.6" r="3.4"/>
<circle cx="419.4" cy="1778.4" r="3.4"/>
<circle cx="276.9" cy="1787.1" r="3.4"/>
<circle cx="302.9" cy="1782.0" r="3.4"/>
<circle cx="315.5" cy="1783.6" r="3.4"/>
<circle cx="361.8" cy="1788.8" r="3.4"/>
<circle cx="385.4" cy="1792.3" r="3.4"/>
<circle cx="338.7" cy="1798.7" r="3.4"/>
<circle cx="340.7" cy="1804.0" r="3.4"/>
<circle cx="424.8" cy="1797.4" r="3.4"/>
<circle cx="403.9" cy="1804.0" r="3.4"/>
<circle cx="417.8" cy="1809.4" r="3.4"/>
<circle cx="446.4" cy="1802.4" r="3.4"/>
<circle cx="463.4" cy="1596.1" r="3.4"/>
<circle cx="502.6" cy="1596.1" r="3.4"/>
<circle cx="520.1" cy="1737.8" r="3.4"/>
<circle cx="516.5" cy="1763.1" r="3.4"/>
<circle cx="520.1" cy="1765.1" r="3.4"/>
<circle cx="468.6" cy="1795.4" r="3.4"/>
<circle cx="461.6" cy="1802.6" r="3.4"/>
<circle cx="560.1" cy="1795.4" r="3.4"/>
<circle cx="600.9" cy="1807.7" r="3.4"/>
<text transform="translate(466.42,1648.75) scale(0.7439,1)" font-size="30.72" fill="#000" stroke="#000" stroke-width="0.7" stroke-linejoin="round">R</text>
<text transform="translate(487.22,1634.95) scale(0.9830,1)" font-size="23.00" fill="#000" stroke="#000" stroke-width="0.3" stroke-linejoin="round">2</text>
<text transform="translate(498.89,1648.65) scale(0.9900,1)" font-size="30.42" fill="#000" stroke="#000" stroke-width="0.3" stroke-linejoin="round">= 0.0005</text>
<text transform="translate(466.09,1689.43) scale(0.9996,1)" font-size="30.11" fill="#000" stroke="#000" stroke-width="0.3" stroke-linejoin="round">p = 0.9714</text>
<rect x="909.40" y="1553.60" width="398.10" height="298.60" fill="none" stroke="#ababab" stroke-width="1.5"/>
<line x1="901.40" y1="1852.30" x2="909.40" y2="1852.30" stroke="#ababab" stroke-width="1.3"/>
<text x="898.40" y="1856.30" font-size="15.6" text-anchor="end" fill="#111">0</text>
<line x1="901.40" y1="1752.66" x2="909.40" y2="1752.66" stroke="#ababab" stroke-width="1.3"/>
<text x="898.40" y="1756.66" font-size="15.6" text-anchor="end" fill="#111">20</text>
<line x1="901.40" y1="1653.02" x2="909.40" y2="1653.02" stroke="#ababab" stroke-width="1.3"/>
<text x="898.40" y="1657.02" font-size="15.6" text-anchor="end" fill="#111">40</text>
<line x1="901.40" y1="1553.38" x2="909.40" y2="1553.38" stroke="#ababab" stroke-width="1.3"/>
<text x="898.40" y="1557.38" font-size="15.6" text-anchor="end" fill="#111">60</text>
<line x1="940.20" y1="1852.20" x2="940.20" y2="1859.20" stroke="#ababab" stroke-width="1.3"/>
<text x="940.20" y="1875.60" font-size="15.6" text-anchor="middle" fill="#111">0</text>
<line x1="1062.60" y1="1852.20" x2="1062.60" y2="1859.20" stroke="#ababab" stroke-width="1.3"/>
<text x="1062.60" y="1875.60" font-size="15.6" text-anchor="middle" fill="#111">20</text>
<line x1="1185.00" y1="1852.20" x2="1185.00" y2="1859.20" stroke="#ababab" stroke-width="1.3"/>
<text x="1185.00" y="1875.60" font-size="15.6" text-anchor="middle" fill="#111">40</text>
<line x1="1307.40" y1="1852.20" x2="1307.40" y2="1859.20" stroke="#ababab" stroke-width="1.3"/>
<text x="1307.40" y="1875.60" font-size="15.6" text-anchor="middle" fill="#111">60</text>
<text transform="translate(854.97,1799.76) rotate(-90) scale(1.0190,1)" font-size="21.23" fill="#111" stroke="#fff" stroke-width="0.25" stroke-linejoin="round">PB (% naive in CD4)</text>
<text transform="translate(980.59,1901.31) scale(1.0175,1)" font-size="21.98" fill="#111" stroke="#fff" stroke-width="0.25" stroke-linejoin="round">% killed tumor cells (TIC)</text>
<line x1="937.80" y1="1663.10" x2="1261.70" y2="1702.60" stroke="#d43a52" stroke-width="2.1"/>
<circle cx="999.4" cy="1576.1" r="3.4"/>
<circle cx="1064.8" cy="1574.2" r="3.4"/>
<circle cx="1007.4" cy="1589.7" r="3.4"/>
<circle cx="1001.6" cy="1599.7" r="3.4"/>
<circle cx="1022.5" cy="1613.6" r="3.4"/>
<circle cx="1071.1" cy="1631.5" r="3.4"/>
<circle cx="976.6" cy="1644.4" r="3.4"/>
<circle cx="937.8" cy="1658.3" r="3.4"/>
<circle cx="1080.0" cy="1655.9" r="3.4"/>
<circle cx="1107.1" cy="1654.8" r="3.4"/>
<circle cx="1075.5" cy="1681.8" r="3.4"/>
<circle cx="1046.3" cy="1686.2" r="3.4"/>
<circle cx="1085.6" cy="1709.0" r="3.4"/>
<circle cx="962.7" cy="1725.3" r="3.4"/>
<circle cx="1079.0" cy="1763.1" r="3.4"/>
<circle cx="963.8" cy="1816.3" r="3.4"/>
<circle cx="1035.6" cy="1816.6" r="3.4"/>
<circle cx="1129.5" cy="1652.5" r="3.4"/>
<circle cx="1181.2" cy="1654.6" r="3.4"/>
<circle cx="1181.2" cy="1668.9" r="3.4"/>
<circle cx="1177.1" cy="1685.3" r="3.4"/>
<circle cx="1262.0" cy="1697.3" r="3.4"/>
<circle cx="1124.3" cy="1707.2" r="3.4"/>
<circle cx="1122.6" cy="1727.7" r="3.4"/>
<circle cx="1163.5" cy="1744.9" r="3.4"/>
<circle cx="1221.0" cy="1743.1" r="3.4"/>
<text transform="translate(1141.68,1802.55) scale(0.7787,1)" font-size="30.00" fill="#000" stroke="#000" stroke-width="0.7" stroke-linejoin="round">R</text>
<text transform="translate(1160.72,1789.55) scale(0.9309,1)" font-size="24.29" fill="#000" stroke="#000" stroke-width="0.3" stroke-linejoin="round">2</text>
<text transform="translate(1174.20,1802.65) scale(1.0000,1)" font-size="30.00" fill="#000" stroke="#000" stroke-width="0.3" stroke-linejoin="round">= 0.03</text>
<text transform="translate(1141.38,1842.94) scale(1.0236,1)" font-size="29.56" fill="#000" stroke="#000" stroke-width="0.3" stroke-linejoin="round">p = 0.4378</text>
<rect x="253.00" y="1939.70" width="398.40" height="298.30" fill="none" stroke="#ababab" stroke-width="1.5"/>
<line x1="245.00" y1="2238.00" x2="253.00" y2="2238.00" stroke="#ababab" stroke-width="1.3"/>
<text x="242.00" y="2242.00" font-size="15.6" text-anchor="end" fill="#111">0</text>
<line x1="245.00" y1="2152.56" x2="253.00" y2="2152.56" stroke="#ababab" stroke-width="1.3"/>
<text x="242.00" y="2156.56" font-size="15.6" text-anchor="end" fill="#111">20</text>
<line x1="245.00" y1="2067.12" x2="253.00" y2="2067.12" stroke="#ababab" stroke-width="1.3"/>
<text x="242.00" y="2071.12" font-size="15.6" text-anchor="end" fill="#111">40</text>
<line x1="245.00" y1="1981.68" x2="253.00" y2="1981.68" stroke="#ababab" stroke-width="1.3"/>
<text x="242.00" y="1985.68" font-size="15.6" text-anchor="end" fill="#111">60</text>
<line x1="283.60" y1="2238.00" x2="283.60" y2="2245.00" stroke="#ababab" stroke-width="1.3"/>
<text x="283.60" y="2261.40" font-size="15.6" text-anchor="middle" fill="#111">0</text>
<line x1="406.20" y1="2238.00" x2="406.20" y2="2245.00" stroke="#ababab" stroke-width="1.3"/>
<text x="406.20" y="2261.40" font-size="15.6" text-anchor="middle" fill="#111">20</text>
<line x1="528.80" y1="2238.00" x2="528.80" y2="2245.00" stroke="#ababab" stroke-width="1.3"/>
<text x="528.80" y="2261.40" font-size="15.6" text-anchor="middle" fill="#111">40</text>
<line x1="651.40" y1="2238.00" x2="651.40" y2="2245.00" stroke="#ababab" stroke-width="1.3"/>
<text x="651.40" y="2261.40" font-size="15.6" text-anchor="middle" fill="#111">60</text>
<text transform="translate(198.84,2184.66) rotate(-90) scale(1.0165,1)" font-size="21.34" fill="#111" stroke="#fff" stroke-width="0.25" stroke-linejoin="round">PB (% TEM in CD4)</text>
<text transform="translate(324.49,2286.92) scale(1.0412,1)" font-size="21.44" fill="#111" stroke="#fff" stroke-width="0.25" stroke-linejoin="round">% killed tumor cells (TIC)</text>
<line x1="281.60" y1="2131.90" x2="605.60" y2="2155.50" stroke="#d43a52" stroke-width="2.1"/>
<circle cx="379.7" cy="1977.6" r="3.4"/>
<circle cx="306.3" cy="2070.9" r="3.4"/>
<circle cx="307.8" cy="2078.9" r="3.4"/>
<circle cx="422.7" cy="2076.5" r="3.4"/>
<circle cx="419.5" cy="2098.3" r="3.4"/>
<circle cx="451.1" cy="2123.6" r="3.4"/>
<circle cx="429.5" cy="2129.1" r="3.4"/>
<circle cx="423.9" cy="2147.3" r="3.4"/>
<circle cx="281.6" cy="2152.9" r="3.4"/>
<circle cx="320.2" cy="2156.3" r="3.4"/>
<circle cx="345.4" cy="2165.7" r="3.4"/>
<circle cx="415.2" cy="2172.5" r="3.4"/>
<circle cx="389.9" cy="2187.2" r="3.4"/>
<circle cx="366.5" cy="2189.3" r="3.4"/>
<circle cx="343.0" cy="2196.2" r="3.4"/>
<circle cx="351.0" cy="2198.9" r="3.4"/>
<circle cx="408.4" cy="2200.8" r="3.4"/>
<circle cx="525.0" cy="2117.8" r="3.4"/>
<circle cx="507.1" cy="2123.1" r="3.4"/>
<circle cx="564.6" cy="2138.7" r="3.4"/>
<circle cx="467.9" cy="2145.1" r="3.4"/>
<circle cx="524.7" cy="2147.0" r="3.4"/>
<circle cx="521.0" cy="2156.9" r="3.4"/>
<circle cx="473.1" cy="2174.9" r="3.4"/>
<circle cx="466.3" cy="2178.6" r="3.4"/>
<circle cx="605.6" cy="2190.1" r="3.4"/>
<text transform="translate(485.82,1976.55) scale(0.7510,1)" font-size="30.43" fill="#000" stroke="#000" stroke-width="0.7" stroke-linejoin="round">R</text>
<text transform="translate(501.78,1963.85) scale(0.7829,1)" font-size="24.71" fill="#000" stroke="#000" stroke-width="0.3" stroke-linejoin="round">2</text>
<text transform="translate(518.00,1976.74) scale(0.9798,1)" font-size="30.56" fill="#000" stroke="#000" stroke-width="0.3" stroke-linejoin="round">= 0.02</text>
<text transform="translate(485.49,2016.90) scale(1.0128,1)" font-size="29.78" fill="#000" stroke="#000" stroke-width="0.3" stroke-linejoin="round">p = 0.5479</text>
<rect x="909.40" y="1939.50" width="398.10" height="298.80" fill="none" stroke="#ababab" stroke-width="1.5"/>
<line x1="901.40" y1="2238.20" x2="909.40" y2="2238.20" stroke="#ababab" stroke-width="1.3"/>
<text x="898.40" y="2242.20" font-size="15.6" text-anchor="end" fill="#111">0</text>
<line x1="901.40" y1="2163.42" x2="909.40" y2="2163.42" stroke="#ababab" stroke-width="1.3"/>
<text x="898.40" y="2167.42" font-size="15.6" text-anchor="end" fill="#111">20</text>
<line x1="901.40" y1="2088.64" x2="909.40" y2="2088.64" stroke="#ababab" stroke-width="1.3"/>
<text x="898.40" y="2092.64" font-size="15.6" text-anchor="end" fill="#111">40</text>
<line x1="901.40" y1="2013.86" x2="909.40" y2="2013.86" stroke="#ababab" stroke-width="1.3"/>
<text x="898.40" y="2017.86" font-size="15.6" text-anchor="end" fill="#111">60</text>
<line x1="901.40" y1="1939.08" x2="909.40" y2="1939.08" stroke="#ababab" stroke-width="1.3"/>
<text x="898.40" y="1943.08" font-size="15.6" text-anchor="end" fill="#111">80</text>
<line x1="940.20" y1="2238.30" x2="940.20" y2="2245.30" stroke="#ababab" stroke-width="1.3"/>
<text x="940.20" y="2261.70" font-size="15.6" text-anchor="middle" fill="#111">0</text>
<line x1="1062.60" y1="2238.30" x2="1062.60" y2="2245.30" stroke="#ababab" stroke-width="1.3"/>
<text x="1062.60" y="2261.70" font-size="15.6" text-anchor="middle" fill="#111">20</text>
<line x1="1185.00" y1="2238.30" x2="1185.00" y2="2245.30" stroke="#ababab" stroke-width="1.3"/>
<text x="1185.00" y="2261.70" font-size="15.6" text-anchor="middle" fill="#111">40</text>
<line x1="1307.40" y1="2238.30" x2="1307.40" y2="2245.30" stroke="#ababab" stroke-width="1.3"/>
<text x="1307.40" y="2261.70" font-size="15.6" text-anchor="middle" fill="#111">60</text>
<text transform="translate(854.84,2182.11) rotate(-90) scale(0.9899,1)" font-size="21.34" fill="#111" stroke="#fff" stroke-width="0.25" stroke-linejoin="round">PB (% TCM in CD4)</text>
<text transform="translate(980.59,2287.12) scale(1.0429,1)" font-size="21.44" fill="#111" stroke="#fff" stroke-width="0.25" stroke-linejoin="round">% killed tumor cells (TIC)</text>
<line x1="937.80" y1="2111.90" x2="1262.00" y2="2061.30" stroke="#d43a52" stroke-width="2.1"/>
<circle cx="963.8" cy="2036.4" r="3.4"/>
<circle cx="1046.5" cy="2037.2" r="3.4"/>
<circle cx="1085.9" cy="2069.9" r="3.4"/>
<circle cx="1079.0" cy="2072.8" r="3.4"/>
<circle cx="937.8" cy="2089.1" r="3.4"/>
<circle cx="1022.5" cy="2090.7" r="3.4"/>
<circle cx="976.6" cy="2097.2" r="3.4"/>
<circle cx="1071.2" cy="2095.6" r="3.4"/>
<circle cx="1080.3" cy="2097.5" r="3.4"/>
<circle cx="1064.8" cy="2106.8" r="3.4"/>
<circle cx="999.4" cy="2110.8" r="3.4"/>
<circle cx="1001.8" cy="2118.3" r="3.4"/>
<circle cx="1107.1" cy="2114.3" r="3.4"/>
<circle cx="963.0" cy="2125.8" r="3.4"/>
<circle cx="1007.4" cy="2131.1" r="3.4"/>
<circle cx="1075.5" cy="2131.9" r="3.4"/>
<circle cx="1036.0" cy="2173.3" r="3.4"/>
<circle cx="1122.6" cy="2010.9" r="3.4"/>
<circle cx="1262.0" cy="2023.5" r="3.4"/>
<circle cx="1221.0" cy="2036.2" r="3.4"/>
<circle cx="1177.1" cy="2071.1" r="3.4"/>
<circle cx="1129.5" cy="2072.8" r="3.4"/>
<circle cx="1163.5" cy="2092.2" r="3.4"/>
<circle cx="1181.2" cy="2097.4" r="3.4"/>
<circle cx="1124.3" cy="2101.5" r="3.4"/>
<circle cx="1181.2" cy="2127.8" r="3.4"/>
<text transform="translate(1141.68,2189.55) scale(0.7639,1)" font-size="30.58" fill="#000" stroke="#000" stroke-width="0.7" stroke-linejoin="round">R</text>
<text transform="translate(1160.72,2176.25) scale(0.9309,1)" font-size="24.29" fill="#000" stroke="#000" stroke-width="0.3" stroke-linejoin="round">2</text>
<text transform="translate(1174.20,2189.64) scale(0.9834,1)" font-size="30.56" fill="#000" stroke="#000" stroke-width="0.3" stroke-linejoin="round">= 0.12</text>
<text transform="translate(1141.39,2229.64) scale(1.0203,1)" font-size="29.56" fill="#000" stroke="#000" stroke-width="0.3" stroke-linejoin="round">p = 0.0834</text>
</svg>
</body></html>
